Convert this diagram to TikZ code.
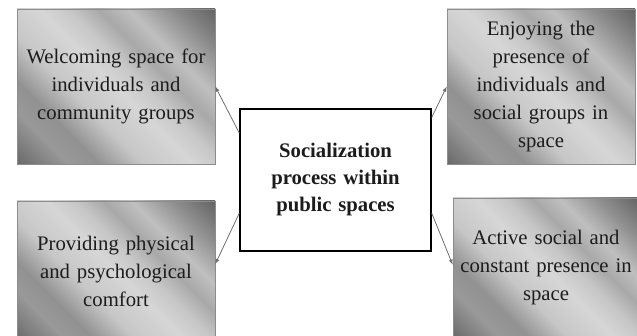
\documentclass[tikz,border=0pt]{standalone}
\usepackage{xcolor}
\usepackage{fontspec}
\setmainfont{Liberation Serif}
\usepackage{tikz}
\usetikzlibrary{shapes,arrows,positioning,shadows}
\definecolor{darktext}{RGB}{28, 28, 28}
\definecolor{boxline}{RGB}{140, 140, 140}
\definecolor{linkgrey}{RGB}{110, 110, 110}

% silvery diagonal bands for the outer boxes
\pgfdeclarehorizontalshading{greyband}{100bp}{%
  color(0bp)=(black!62); color(15bp)=(black!58); color(25bp)=(black!40);
  color(31bp)=(black!43); color(40bp)=(black!22); color(50bp)=(black!16);
  color(56bp)=(black!22); color(62bp)=(black!34); color(68bp)=(black!25);
  color(77bp)=(black!45); color(85bp)=(black!60); color(100bp)=(black!64)}

\begin{document}
\begin{tikzpicture}[x=1pt,y=-1pt,
  idea/.style={draw=boxline, line width=0.6pt, shading=greyband, shading angle=45,
    drop shadow={opacity=0.25,shadow xshift=1pt,shadow yshift=-1.5pt},
    inner sep=0pt, align=center, text=darktext,
    font=\fontsize{20.7}{28}\selectfont},
  core/.style={draw=black, line width=1.4pt, fill=white,
    drop shadow={opacity=0.45,shadow xshift=1.2pt,shadow yshift=-1.2pt},
    minimum width=191pt, minimum height=142pt, inner sep=0pt,
    text width=180pt, align=center, text=darktext,
    font=\fontsize{20.7}{27}\selectfont\bfseries},
  link/.style={draw=linkgrey, line width=0.8pt, -latex}]
\useasboundingbox (0,0) rectangle (637,336);

% centre box
\node [core] (soc) at (335.5,180) {Socialization\\process within\\public spaces};

% four outer boxes
\node [idea, minimum width=198pt, minimum height=155pt, text width=190pt]
  (wel) at (116,86.5) {Welcoming space for\\individuals and\\community groups};
\node [idea, minimum width=188pt, minimum height=155pt, text width=182pt]
  (enj) at (541,86.5) {Enjoying the\\presence of\\individuals and\\social groups in\\space};
\node [idea, minimum width=198pt, minimum height=140pt, text width=190pt]
  (pro) at (116,271) {Providing physical\\and psychological\\comfort};
\node [idea, minimum width=186pt, minimum height=140pt, text width=182pt]
  (act) at (546,268) {Active social and\\constant presence in\\space};

% connectors
\draw [link] (soc.154) -- (wel.east);
\draw [link] (soc.33) -- (enj.west);
\draw [link] (soc.199) -- (pro.4);
\draw [link] (soc.341) -- (act.178);
\end{tikzpicture}
\end{document}
